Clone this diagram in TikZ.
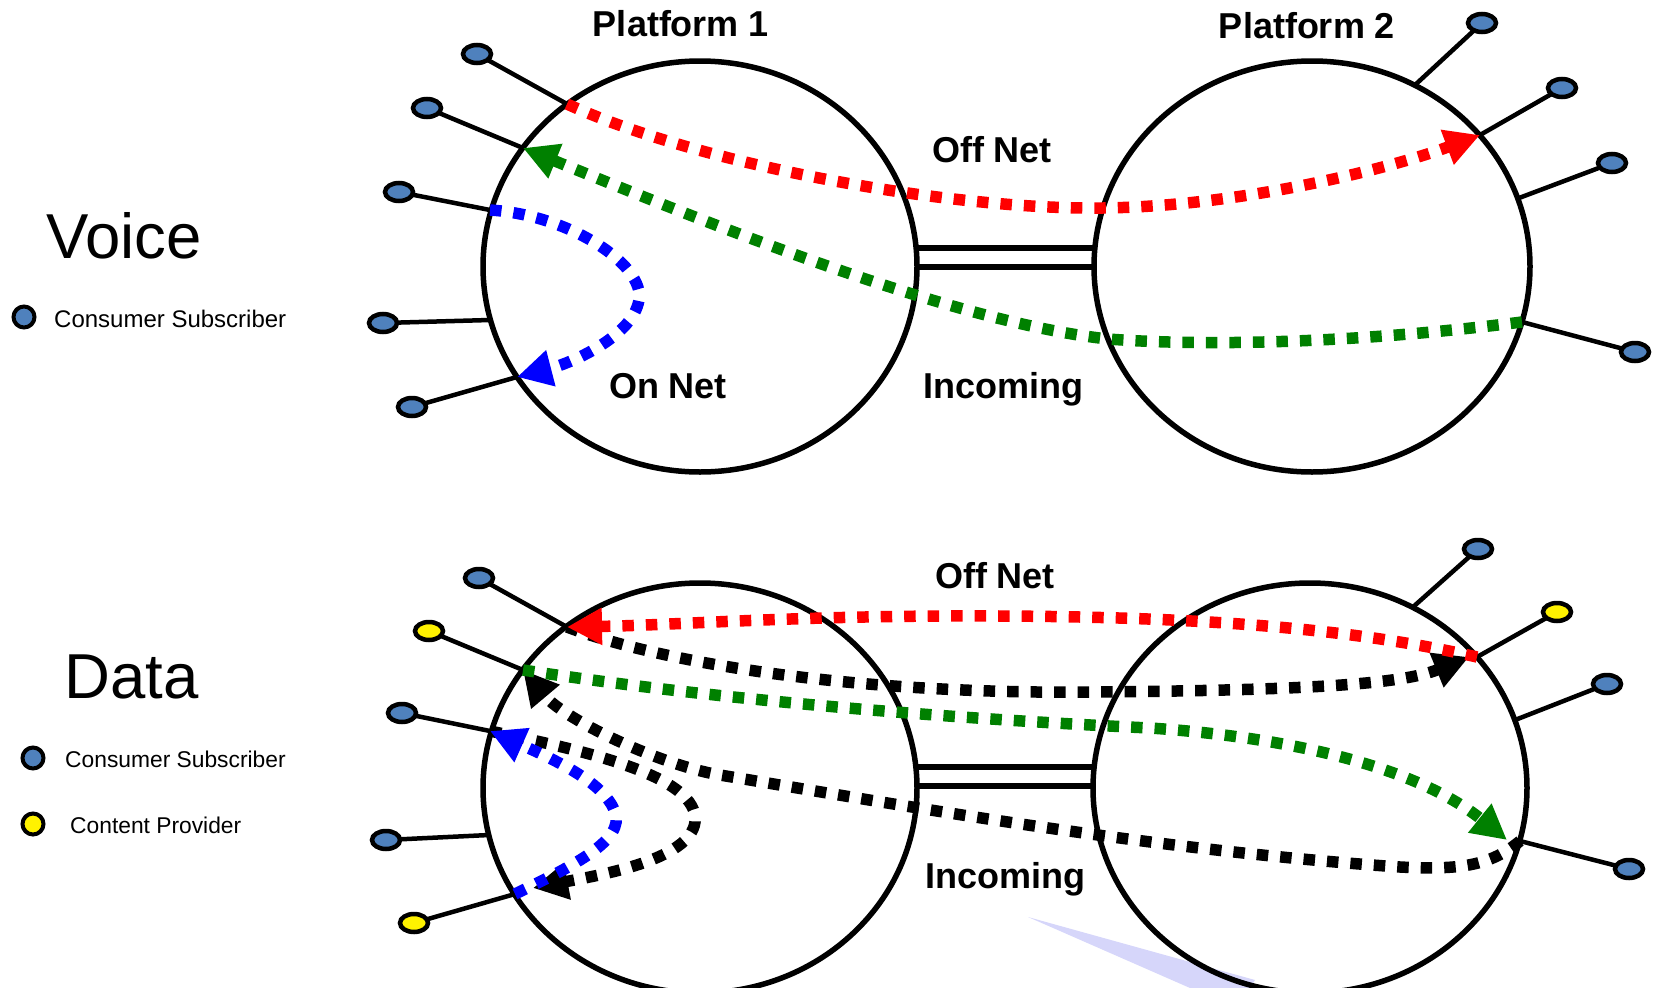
\documentclass[tikz,border=0pt]{standalone}
\usepackage{fontspec}
\setmainfont{Liberation Sans}
\usetikzlibrary{arrows.meta,shapes.geometric}
\definecolor{termblue}{RGB}{79,129,189}
\definecolor{fgreen}{RGB}{0,128,0}
\definecolor{wedgec}{RGB}{214,214,250}
\begin{document}
\begin{tikzpicture}[x=1pt,y=-1pt,
  ring/.style={ellipse,draw=black,line width=5.5pt,inner sep=0pt,outer sep=0pt},
  wire/.style={draw=black,line width=4.5pt},
  term/.style={ellipse,draw=black,line width=4.5pt,fill=termblue,minimum width=28pt,minimum height=18pt,inner sep=0pt,outer sep=0pt},
  yterm/.style={term,fill=yellow},
  legdot/.style={circle,draw=black,line width=4pt,minimum size=21pt,inner sep=0pt},
  flow/.style={line width=11.5pt,dash pattern=on 11.5pt off 12pt},
  tip/.style={-{Triangle[length=35pt,width=35pt]}},
  lbl/.style={font=\fontsize{36}{40}\selectfont\bfseries,inner sep=0pt,anchor=base},
  big/.style={font=\fontsize{63.5}{70}\selectfont,inner sep=0pt,anchor=base west},
  leg/.style={font=\fontsize{24}{27}\selectfont,inner sep=0pt,anchor=base west},
]
\useasboundingbox (0,0) rectangle (1655,988);
% light wedge
\fill[wedgec] (1028,917) -- (1255,980) -- (1250,988) -- (1190,988) -- cycle;

% platforms
\node[ring,minimum width=434pt,minimum height=411pt] (P1v) at (700,266.5) {};
\node[ring,minimum width=436pt,minimum height=411pt] (P2v) at (1312,266.5) {};
\node[ring,minimum width=434pt,minimum height=410pt] (P1d) at (700,788) {};
\node[ring,minimum width=434pt,minimum height=410pt] (P2d) at (1310,788) {};

% double links
\coordinate (lv1a) at (917,248); \coordinate (lv1b) at (1094,248);
\coordinate (lv2a) at (917,267); \coordinate (lv2b) at (1094,267);
\draw[line width=5.5pt] (lv1a) -- (lv1b) (lv2a) -- (lv2b);
\coordinate (ld1a) at (917,767); \coordinate (ld1b) at (1092,767);
\coordinate (ld2a) at (917,786); \coordinate (ld2b) at (1092,786);
\draw[line width=5.5pt] (ld1a) -- (ld1b) (ld2a) -- (ld2b);

% attach points
\coordinate (a1) at (567,104); \coordinate (a2) at (523,148);
\coordinate (a3) at (490,210); \coordinate (a4) at (490,320);
\coordinate (a5) at (517,377);
\coordinate (b1) at (1415,85); \coordinate (b2) at (1480,135);
\coordinate (b3) at (1519,198); \coordinate (b4) at (1522,322);
\coordinate (c1) at (567,627); \coordinate (c2) at (523,670);
\coordinate (c3) at (490,731); \coordinate (c4) at (489,835);
\coordinate (c5) at (515,894);
\coordinate (d1) at (1413,607); \coordinate (d2) at (1477,657);
\coordinate (d3) at (1515,720); \coordinate (d4) at (1520,841);
\coordinate (d2t) at (1469,657); \coordinate (d4t) at (1507,840);
\coordinate (c5t) at (533,888);

% terminals voice
\node[term] (ta1) at (477,54) {};  \draw[wire] (ta1) -- (a1);
\node[term] (ta2) at (427,108) {}; \draw[wire] (ta2) -- (a2);
\node[term] (ta3) at (399,192) {}; \draw[wire] (ta3) -- (a3);
\node[term] (ta4) at (383,323) {}; \draw[wire] (ta4) -- (a4);
\node[term] (ta5) at (412,407) {}; \draw[wire] (ta5) -- (a5);
\node[term] (tb1) at (1482,23) {};  \draw[wire] (tb1) -- (b1);
\node[term] (tb2) at (1562,88) {};  \draw[wire] (tb2) -- (b2);
\node[term] (tb3) at (1612,163) {}; \draw[wire] (tb3) -- (b3);
\node[term] (tb4) at (1635,352) {}; \draw[wire] (tb4) -- (b4);
% terminals data
\node[term] (tc1) at (479,578) {};  \draw[wire] (tc1) -- (c1);
\node[yterm] (tc2) at (429,631) {}; \draw[wire] (tc2) -- (c2);
\node[term] (tc3) at (402,713) {};  \draw[wire] (tc3) -- (c3);
\node[term] (tc4) at (386,840) {};  \draw[wire] (tc4) -- (c4);
\node[yterm] (tc5) at (414,923) {}; \draw[wire] (tc5) -- (c5);
\node[term] (td1) at (1478,549) {};  \draw[wire] (td1) -- (d1);
\node[yterm] (td2) at (1557,612) {}; \draw[wire] (td2) -- (d2);
\node[term] (td3) at (1607,684) {};  \draw[wire] (td3) -- (d3);
\node[term] (td4) at (1629,869) {};  \draw[wire] (td4) -- (d4);

% voice flows
\draw[flow,red,tip] (a1) .. controls (700,165) and (950,210) .. (1103,208)
   .. controls (1250,206) and (1400,165) .. (b2);
\draw[flow,fgreen,tip] (b4) .. controls (1350,344) and (1200,346) .. (1108,339)
   .. controls (950,322) and (700,220) .. (a2);
\draw[flow,blue,tip] (a3) .. controls (570,215) and (645,265) .. (639,300)
   .. controls (633,335) and (575,362) .. (a5);

% data flows
\draw[flow,black,tip] (c1) .. controls (660,662) and (850,695) .. (1100,692)
   .. controls (1300,690) and (1400,685) .. (d2t);
\draw[flow,red,tip] (d2) .. controls (1350,628) and (1200,617) .. (1000,616)
   .. controls (800,615) and (680,625) .. (c1);
\draw[flow,black,tip] (d4) .. controls (1490,866) and (1460,870) .. (1400,867)
   .. controls (1150,850) and (900,805) .. (720,775)
   .. controls (660,765) and (565,720) .. (c2);
\draw[flow,fgreen,tip] (c2) .. controls (750,705) and (1000,721) .. (1150,728)
   .. controls (1300,738) and (1420,770) .. (d4t);
\draw[flow,black,tip] (c3) .. controls (580,750) and (700,775) .. (695,822)
   .. controls (690,860) and (600,875) .. (c5t);
\draw[flow,blue,tip] (c5) .. controls (575,865) and (625,840) .. (615,812)
   .. controls (605,784) and (560,762) .. (c3);

% labels
\node[lbl] (pl1) at (681,36) {Platform 1};
\node[lbl] (pl2) at (1307,38) {Platform 2};
\node[lbl] (offv) at (992,162) {Off Net};
\node[lbl] (onv) at (668,398) {On Net};
\node[lbl] (inv) at (1003,398) {Incoming};
\node[lbl] (offd) at (995,588) {Off Net};
\node[lbl] (ind) at (1005,888) {Incoming};

% legends
\node[big] (voice) at (46,258) {Voice};
\node[legdot,fill=termblue] (lgv) at (24,317) {};
\node[leg] (lgvt) at (54,327) {Consumer Subscriber};
\node[big] (data) at (64,698) {Data};
\node[legdot,fill=termblue] (lgd1) at (33,758) {};
\node[leg,font=\fontsize{22.8}{27}\selectfont] (lgd1t) at (65,767) {Consumer Subscriber};
\node[legdot,fill=yellow] (lgd2) at (33,824) {};
\node[leg,font=\fontsize{22.8}{27}\selectfont] (lgd2t) at (70,833) {Content Provider};
\end{tikzpicture}
\end{document}
